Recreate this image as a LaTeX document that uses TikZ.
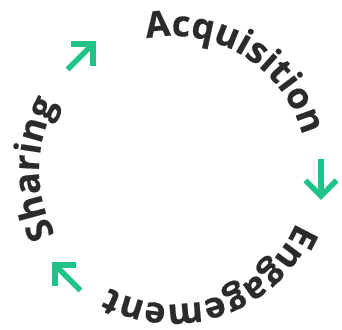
\documentclass[tikz,border=0pt]{standalone}
\usepackage{fontspec}
\setmainfont{Open Sans}[BoldFeatures={FakeBold=0.4}]
\usetikzlibrary{decorations.text}

\definecolor{ink}{HTML}{2B2B2B}
\definecolor{leaf}{HTML}{1FC287}

\begin{document}
\begin{tikzpicture}[x=1pt,y=1pt]
  \useasboundingbox (0,0) rectangle (342,329);
  \coordinate (c) at (173,159);
  \tikzset{
    ringword/.style={decorate, decoration={text along path, text color=ink,
        text={|\fontsize{36}{36}\selectfont\bfseries|#1}}},
    cyclearrow/.style={draw=leaf, line width=5.5pt, line cap=butt, line join=miter}
  }

  % words set clockwise along the ring
  \path[ringword=Acquisition] ([shift={(101.4:134)}]c) arc[start angle=101.4, end angle=-10, radius=134];
  \path[ringword=Engagement]  ([shift={(-23:134)}]c)   arc[start angle=-23, end angle=-145, radius=134];
  \path[ringword=Sharing]     ([shift={(208.6:134)}]c) arc[start angle=208.6, end angle=115, radius=134];

  % arrow from Sharing to Acquisition
  \coordinate (t1) at (93,285);
  \coordinate (s1) at ([shift={(225:36)}]t1);
  \coordinate (a1) at ([shift={(180:22)}]t1);
  \coordinate (b1) at ([shift={(270:22)}]t1);
  \draw[cyclearrow] (s1) -- (t1);
  \draw[cyclearrow] (a1) -- (t1) -- (b1);

  % arrow from Acquisition to Engagement
  \coordinate (t2) at (321,133);
  \coordinate (s2) at ([shift={(90:37)}]t2);
  \coordinate (a2) at ([shift={(45:22)}]t2);
  \coordinate (b2) at ([shift={(135:22)}]t2);
  \draw[cyclearrow] (s2) -- (t2);
  \draw[cyclearrow] (a2) -- (t2) -- (b2);

  % arrow from Engagement to Sharing
  \coordinate (t3) at (55,64);
  \coordinate (s3) at ([shift={(-45:36)}]t3);
  \coordinate (a3) at ([shift={(0:21)}]t3);
  \coordinate (b3) at ([shift={(-90:21)}]t3);
  \draw[cyclearrow] (s3) -- (t3);
  \draw[cyclearrow] (a3) -- (t3) -- (b3);
\end{tikzpicture}
\end{document}
